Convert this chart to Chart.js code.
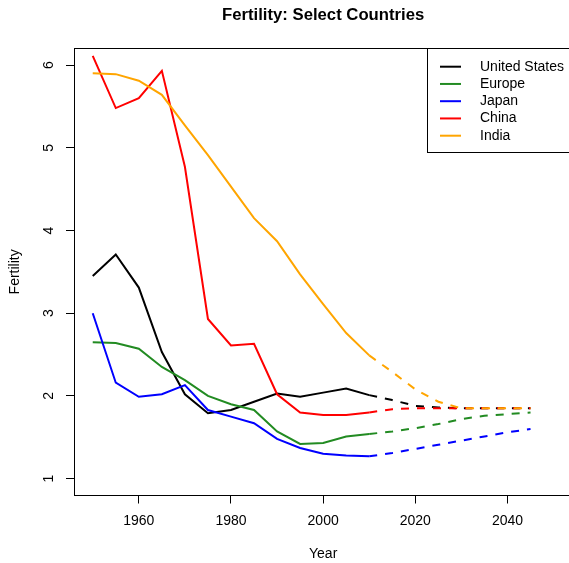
<!DOCTYPE html>
<html>
<head>
<meta charset="utf-8">
<title>Fertility: Select Countries</title>
<script src="https://cdn.jsdelivr.net/npm/chart.js@4/dist/chart.umd.min.js"></script>
<style>
  html, body { margin: 0; padding: 0; background: #fff; overflow: hidden; }
  #wrap { width: 569px; height: 563px; overflow: hidden; }
  canvas { display: block; }
</style>
</head>
<body>
<div id="wrap"><canvas id="c" width="580" height="563" style="width:580px;height:563px"></canvas></div>
<script>
// Total fertility rate: estimates 1950-2010, projections 2010-2045
const years     = [1950, 1955, 1960, 1965, 1970, 1975, 1980, 1985, 1990, 1995, 2000, 2005, 2010];
const projYears = [2010, 2015, 2020, 2025, 2030, 2035, 2040, 2045];

const countries = ['United States', 'Europe', 'Japan', 'China', 'India'];

const usa    = [3.45, 3.71, 3.31, 2.53, 2.02, 1.79, 1.83, 1.93, 2.03, 1.99, 2.04, 2.09, 2.01];
const europe = [2.65, 2.64, 2.57, 2.35, 2.19, 2.00, 1.90, 1.83, 1.57, 1.42, 1.43, 1.51, 1.54];
const japan  = [3.00, 2.16, 1.99, 2.02, 2.13, 1.83, 1.75, 1.67, 1.48, 1.37, 1.30, 1.28, 1.27];
const china  = [6.11, 5.48, 5.60, 5.93, 4.77, 2.93, 2.61, 2.63, 2.02, 1.80, 1.77, 1.77, 1.80];
const india  = [5.90, 5.89, 5.81, 5.64, 5.27, 4.91, 4.53, 4.15, 3.87, 3.47, 3.11, 2.76, 2.49];

const usaProj    = [2.01, 1.95, 1.88, 1.86, 1.85, 1.85, 1.85, 1.85];
const europeProj = [1.54, 1.57, 1.61, 1.66, 1.72, 1.76, 1.78, 1.80];
const japanProj  = [1.27, 1.31, 1.36, 1.41, 1.46, 1.51, 1.56, 1.60];
const chinaProj  = [1.80, 1.84, 1.85, 1.85, 1.85, 1.85, 1.85, 1.85];
const indiaProj  = [2.49, 2.29, 2.08, 1.93, 1.85, 1.85, 1.85, 1.85];

const xTicks = [1960, 1980, 2000, 2020, 2040];
const yTicks = [1, 2, 3, 4, 5, 6];

const estimates   = [usa, europe, japan, china, india];
const projections = [usaProj, europeProj, japanProj, chinaProj, indiaProj];
const colors = ['#000000', '#228B22', '#0000FF', '#FF0000', '#FFA500'];

const FONT = "'Liberation Sans', Arial, Helvetica, sans-serif";
Chart.defaults.color = '#000';
Chart.defaults.font.family = FONT;
Chart.defaults.font.size = 14;

const toXY = (xs, ys) => xs.map((x, i) => ({ x, y: ys[i] }));

const datasets = [];
countries.forEach((name, i) => {
  datasets.push({
    label: name,
    data: toXY(years, estimates[i]),
    borderColor: colors[i],
    borderWidth: 2,
    pointRadius: 0,
    tension: 0,
    order: countries.length - i
  });
  datasets.push({
    label: name + ' (projection)',
    data: toXY(projYears, projections[i]),
    borderColor: colors[i],
    borderWidth: 2,
    borderDash: [8, 8],
    pointRadius: 0,
    tension: 0,
    order: countries.length - i
  });
});

// Frame around the plotting region
const framePlugin = {
  id: 'frame',
  afterDraw(chart) {
    const { ctx, chartArea: a } = chart;
    const al = v => Math.round(v - 0.5) + 0.5;
    ctx.save();
    ctx.strokeStyle = '#000';
    ctx.lineWidth = 1;
    ctx.strokeRect(al(a.left), al(a.top), al(a.right) - al(a.left), al(a.bottom) - al(a.top));
    ctx.restore();
  }
};

// Boxed legend in the top-right corner of the plotting region
const boxLegendPlugin = {
  id: 'boxLegend',
  afterDraw(chart, args, opts) {
    const { ctx, chartArea: a } = chart;
    const entries = chart.data.datasets.filter(d => !d.borderDash);
    const left = opts.left, top = a.top, bottom = opts.bottom;
    const al = v => Math.round(v - 0.5) + 0.5;
    ctx.save();
    ctx.fillStyle = '#fff';
    ctx.fillRect(left, top, a.right - left, bottom - top);
    ctx.strokeStyle = '#000';
    ctx.lineWidth = 1;
    ctx.strokeRect(al(left), al(top), al(a.right) - al(left), al(bottom) - al(top));
    ctx.font = '14px ' + FONT;
    ctx.textBaseline = 'middle';
    ctx.textAlign = 'left';
    entries.forEach((d, i) => {
      const y = opts.firstRow + i * opts.rowStep;
      ctx.strokeStyle = d.borderColor;
      ctx.lineWidth = d.borderWidth;
      ctx.beginPath();
      ctx.moveTo(opts.lineStart, y);
      ctx.lineTo(opts.lineEnd, y);
      ctx.stroke();
      ctx.fillStyle = '#000';
      ctx.fillText(d.label, opts.textStart, y);
    });
    ctx.restore();
  }
};

new Chart(document.getElementById('c'), {
  type: 'line',
  data: { datasets },
  plugins: [framePlugin, boxLegendPlugin],
  options: {
    responsive: false,
    animation: false,
    devicePixelRatio: 1,
    layout: { padding: { left: 0, right: 8, top: 0, bottom: 0 } },
    plugins: {
      legend: { display: false },
      tooltip: { enabled: false },
      title: {
        display: true,
        text: 'Fertility: Select Countries',
        fullSize: false,
        font: { size: 16.7, weight: 'bold', lineHeight: 1.2 },
        color: '#000',
        padding: { top: 5.5, bottom: 22.96 }
      },
      boxLegend: {
        left: 427.3, bottom: 152,
        lineStart: 440, lineEnd: 461, textStart: 480,
        firstRow: 66.7, rowStep: 17.25
      }
    },
    scales: {
      x: {
        type: 'linear',
        min: 1946,
        max: 2054,
        afterBuildTicks: s => { s.ticks = xTicks.map(v => ({ value: v })); },
        afterFit: s => { s.height = 67.8; },
        ticks: {
          padding: 9.6,
          maxRotation: 0,
          autoSkip: false,
          color: '#000',
          font: { size: 14 },
          callback: v => String(v)
        },
        grid: {
          display: true,
          drawOnChartArea: false,
          drawTicks: true,
          tickLength: 8.3,
          color: '#000',
          lineWidth: 1
        },
        border: { display: false },
        title: {
          display: true,
          text: 'Year',
          color: '#000',
          font: { size: 14, lineHeight: 1.2 },
          padding: { top: 0, bottom: 0 }
        }
      },
      y: {
        type: 'linear',
        min: 0.8,
        max: 6.2,
        afterBuildTicks: s => { s.ticks = yTicks.map(v => ({ value: v })); },
        afterFit: s => { s.width = 74.3; },
        ticks: {
          padding: 13.1,
          minRotation: 90,
          maxRotation: 90,
          crossAlign: 'center',
          autoSkip: false,
          color: '#000',
          font: { size: 14 },
          callback: v => String(v)
        },
        grid: {
          display: true,
          drawOnChartArea: false,
          drawTicks: true,
          tickLength: 8.3,
          color: '#000',
          lineWidth: 1
        },
        border: { display: false },
        title: {
          display: true,
          text: 'Fertility',
          color: '#000',
          font: { size: 14, lineHeight: 1.2 },
          padding: { top: 6.6, bottom: 0 }
        }
      }
    }
  }
});
</script>
</body>
</html>
